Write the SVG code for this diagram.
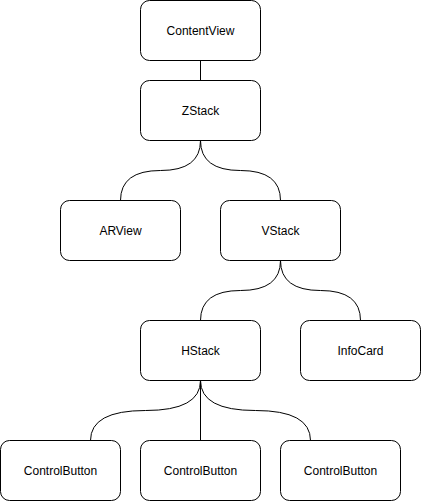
<svg xmlns="http://www.w3.org/2000/svg" width="422" height="501" viewBox="0 0 422 501">
<style>
.n rect{fill:#fff;stroke:#000;stroke-width:1}
.n text{font-family:"Liberation Sans",Arial,sans-serif;font-size:12px;fill:#000;text-anchor:middle;dominant-baseline:central}
.e path{fill:none;stroke:#000;stroke-width:1}
</style>
<rect width="422" height="501" fill="#fff"/>
<g class="e" id="connectors">
<path d="M200.5,60.5 L200.5,80.5"/>
<path d="M200.5,140.5 Q200.5,170.5 160.5,170.5 Q120.5,170.5 120.5,200.5"/>
<path d="M200.5,140.5 Q200.5,170.5 240.5,170.5 Q280.5,170.5 280.5,200.5"/>
<path d="M280.5,260.5 Q280.5,290.5 240.5,290.5 Q200.5,290.5 200.5,320.5"/>
<path d="M280.5,260.5 Q280.5,290.5 320.5,290.5 Q360.5,290.5 360.5,320.5"/>
<path d="M200.5,380.5 Q200.5,410.5 145.5,410.5 Q90.5,410.5 90.5,440.5"/>
<path d="M200.5,380.5 L200.5,440.5"/>
<path d="M200.5,380.5 Q200.5,410.5 255.5,410.5 Q310.5,410.5 310.5,440.5"/>
</g>
<g class="n" id="contentview"><rect x="140.5" y="0.5" width="120" height="60" rx="9"/><text x="200.5" y="30.5">ContentView</text></g>
<g class="n" id="zstack"><rect x="140.5" y="80.5" width="120" height="60" rx="9"/><text x="200.5" y="110.5">ZStack</text></g>
<g class="n" id="arview"><rect x="60.5" y="200.5" width="120" height="60" rx="9"/><text x="120.5" y="230.5">ARView</text></g>
<g class="n" id="vstack"><rect x="220.5" y="200.5" width="120" height="60" rx="9"/><text x="280.5" y="230.5">VStack</text></g>
<g class="n" id="hstack"><rect x="140.5" y="320.5" width="120" height="60" rx="9"/><text x="200.5" y="350.5">HStack</text></g>
<g class="n" id="infocard"><rect x="300.5" y="320.5" width="120" height="60" rx="9"/><text x="360.5" y="350.5">InfoCard</text></g>
<g class="n" id="controlbutton1"><rect x="0.5" y="440.5" width="120" height="60" rx="9"/><text x="60.5" y="470.5">ControlButton</text></g>
<g class="n" id="controlbutton2"><rect x="140.5" y="440.5" width="120" height="60" rx="9"/><text x="200.5" y="470.5">ControlButton</text></g>
<g class="n" id="controlbutton3"><rect x="280.5" y="440.5" width="120" height="60" rx="9"/><text x="340.5" y="470.5">ControlButton</text></g>
</svg>
